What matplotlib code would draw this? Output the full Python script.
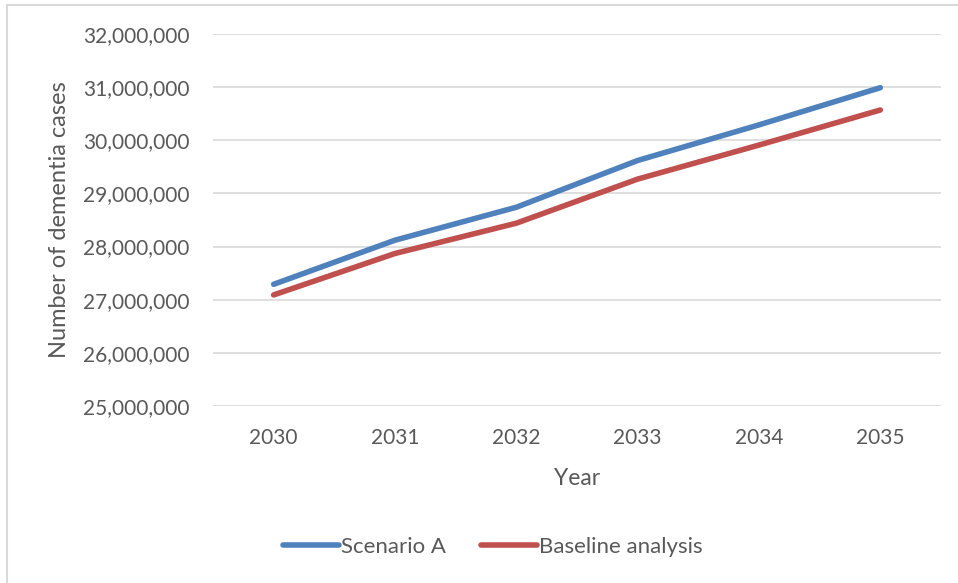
import matplotlib
matplotlib.use("Agg")
import matplotlib.pyplot as plt
from matplotlib.patches import Rectangle
from matplotlib.ticker import FuncFormatter

years = ["2030", "2031", "2032", "2033", "2034", "2035"]
scenario_a = [27290000, 28120000, 28740000, 29620000, 30290000, 30990000]
baseline = [27090000, 27870000, 28440000, 29270000, 29910000, 30570000]
y_ticks = [25000000, 26000000, 27000000, 28000000, 29000000, 30000000, 31000000, 32000000]

plt.rcParams["font.family"] = ["Lato", "DejaVu Sans"]
TEXT = "#595959"
W, H = 958, 583

fig = plt.figure(figsize=(W / 100, H / 100), dpi=100)
fig.patch.set_facecolor("white")

# chart frame (left and top edges visible)
fig.patches.append(Rectangle((7 / W, -0.1), 1.2, (H - 5) / H + 0.1,
                             transform=fig.transFigure, fill=False,
                             edgecolor="#D9D9D9", linewidth=1.5))

left, right, bottom, top = 213, 941, 406, 34
ax = fig.add_axes([left / W, (H - bottom) / H, (right - left) / W, (bottom - top) / H])

x = list(range(len(years)))
ax.plot(x, scenario_a, color="#4F81BD", linewidth=4.0, solid_capstyle="round",
        solid_joinstyle="round", label="Scenario A", zorder=3)
ax.plot(x, baseline, color="#C0504D", linewidth=4.0, solid_capstyle="round",
        solid_joinstyle="round", label="Baseline analysis", zorder=3)

ax.set_xlim(-0.5, len(years) - 0.5)
ax.set_ylim(y_ticks[0], y_ticks[-1])
ax.set_xticks(x)
ax.set_xticklabels(years)
ax.set_yticks(y_ticks)
ax.yaxis.set_major_formatter(FuncFormatter(lambda v, p: f"{int(v):,}"))
ax.tick_params(axis="both", length=0, labelsize=15, colors=TEXT)
ax.tick_params(axis="x", pad=16)
ax.tick_params(axis="y", pad=17)
ax.grid(axis="y", color="#D9D9D9", linewidth=1.2)
ax.set_axisbelow(True)
for s in ax.spines.values():
    s.set_visible(False)

ax.set_xlabel("Year", fontsize=16.5, color=TEXT, labelpad=14)
ax.set_ylabel("Number of dementia cases", fontsize=17, color=TEXT, labelpad=9)

leg = fig.legend(loc="center", bbox_to_anchor=(493 / W, (H - 547) / H), ncol=2,
                 frameon=False, fontsize=16, handlelength=2.5, handletextpad=0.1,
                 columnspacing=1.6)
for t in leg.get_texts():
    t.set_color(TEXT)

fig.savefig("out.png", dpi=100, facecolor="white")
